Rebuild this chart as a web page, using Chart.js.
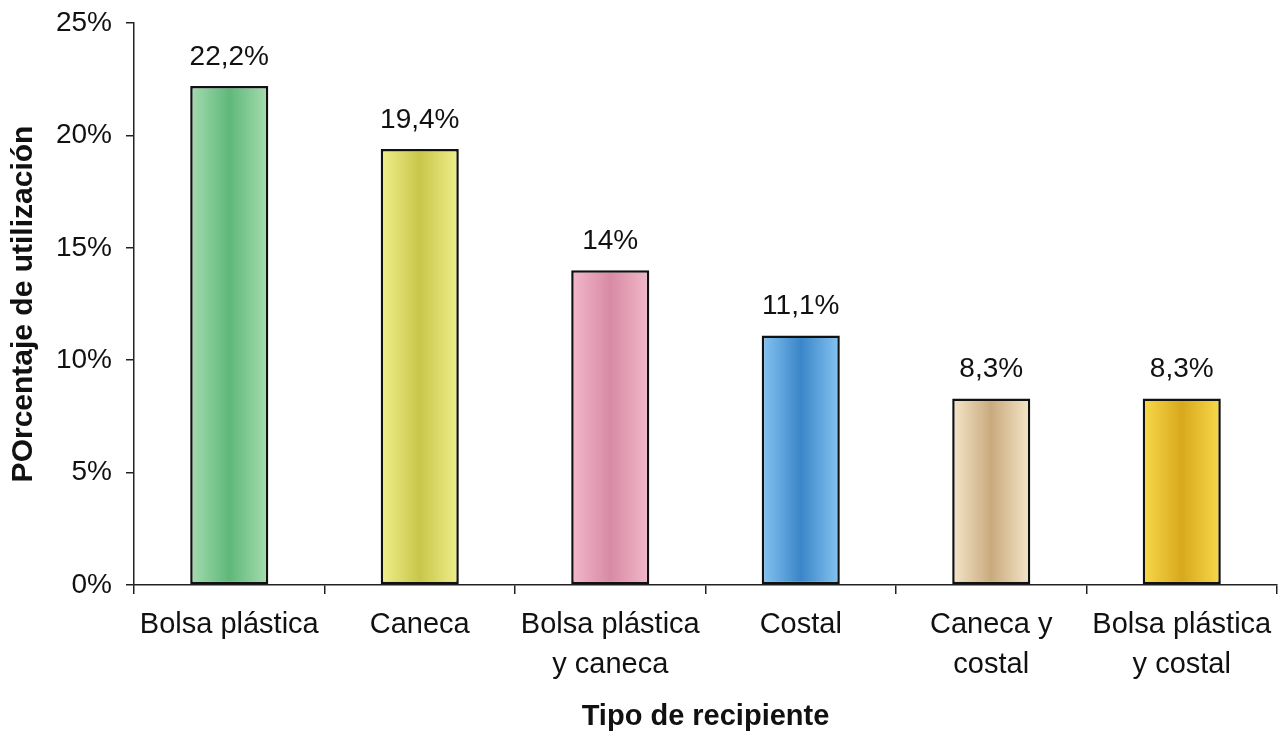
<!DOCTYPE html>
<html>
<head>
<meta charset="utf-8">
<script src="https://cdn.jsdelivr.net/npm/chart.js@4"></script>
<style>
  body { margin: 0; background: #fff; }
  #wrap { width: 1287px; height: 736px; }
</style>
</head>
<body>
<div id="wrap"><canvas id="chart"></canvas></div>
<script>
const categories = [
  "Bolsa plástica",
  "Caneca",
  ["Bolsa plástica", "y caneca"],
  "Costal",
  ["Caneca y", "costal"],
  ["Bolsa plástica", "y costal"]
];
const values = [22.2, 19.4, 14, 11.1, 8.3, 8.3];
const valueLabels = ["22,2%", "19,4%", "14%", "11,1%", "8,3%", "8,3%"];
const barColors = [
  ["#a6dcb0", "#5fb87a"],
  ["#efef8c", "#c9c64a"],
  ["#f2b8ca", "#d88aa4"],
  ["#86c4f2", "#3a86c8"],
  ["#f5e6ca", "#c9aa7e"],
  ["#f7da4a", "#d9a81c"]
];

var font = "'Liberation Sans', Arial, sans-serif";

var valueLabelPlugin = {
  id: "valueLabels",
  afterDatasetsDraw: function (chart) {
    var ctx = chart.ctx;
    var meta = chart.getDatasetMeta(0);
    ctx.save();
    ctx.fillStyle = "#111";
    ctx.font = "28px " + font;
    ctx.textAlign = "center";
    ctx.textBaseline = "alphabetic";
    meta.data.forEach(function (bar, i) {
      ctx.fillText(valueLabels[i], bar.x, bar.y - 21);
    });
    ctx.restore();
  }
};

function barFill(context) {
  var chart = context.chart;
  var c = barColors[context.dataIndex];
  var xs = chart.scales && chart.scales.x;
  if (!xs || !chart.chartArea) return c[0];
  var cx = xs.getPixelForValue(context.dataIndex);
  var half = (xs.width / categories.length) * 0.205;
  if (!isFinite(cx) || !isFinite(half) || half <= 0) return c[0];
  var g = chart.ctx.createLinearGradient(cx - half, 0, cx + half, 0);
  g.addColorStop(0, c[0]);
  g.addColorStop(0.5, c[1]);
  g.addColorStop(1, c[0]);
  return g;
}

var ctx = document.getElementById("chart").getContext("2d");
var myChart = new Chart(ctx, {
  type: "bar",
  data: {
    labels: categories,
    datasets: [
      {
        data: values,
        backgroundColor: barFill,
        borderColor: "#111",
        borderWidth: 2.5,
        borderSkipped: false,
        barPercentage: 0.41,
        categoryPercentage: 1
      }
    ]
  },
  options: {
    responsive: true,
    maintainAspectRatio: false,
    animation: false,
    layout: { padding: { top: 23, right: 10, left: 0, bottom: 0 } },
    plugins: {
      legend: { display: false },
      tooltip: { enabled: false }
    },
    scales: {
      x: {
        offset: true,
        grid: {
          offset: true,
          drawOnChartArea: false,
          drawTicks: true,
          tickLength: 9,
          color: "#222",
          lineWidth: 1.5
        },
        border: { display: true, color: "#222", width: 1.5 },
        ticks: {
          color: "#111",
          font: { family: font, size: 29, lineHeight: 1.38 },
          maxRotation: 0,
          autoSkip: false,
          padding: 11
        },
        title: {
          display: true,
          text: "Tipo de recipiente",
          color: "#111",
          font: { family: font, size: 29, weight: "bold" },
          padding: { top: 4, bottom: 2 }
        },
        afterFit: function (scale) {
          scale.height = 151;
          scale.paddingLeft = 0;
          scale.paddingRight = 0;
        }
      },
      y: {
        min: 0,
        max: 25,
        grid: {
          drawOnChartArea: false,
          drawTicks: true,
          tickLength: 8,
          color: "#222",
          lineWidth: 1.5
        },
        border: { display: true, color: "#222", width: 1.5 },
        ticks: {
          stepSize: 5,
          color: "#111",
          font: { family: font, size: 28 },
          padding: 14,
          callback: function (v) { return v + "%"; }
        },
        title: {
          display: true,
          text: "POrcentaje de utilización",
          color: "#111",
          font: { family: font, size: 30, weight: "bold" },
          padding: { top: 6, bottom: 4 }
        },
        afterFit: function (scale) {
          scale.width = 134;
          scale.paddingTop = 0;
          scale.paddingBottom = 0;
        }
      }
    }
  },
  plugins: [valueLabelPlugin]
});
</script>
</body>
</html>
